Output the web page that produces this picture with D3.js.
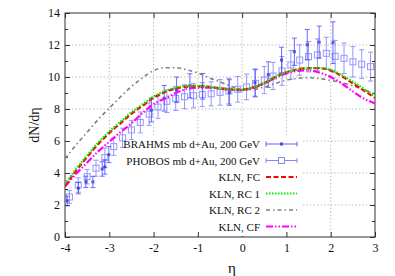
<!DOCTYPE html>
<html>
<head>
<meta charset="utf-8">
<script src="https://cdn.jsdelivr.net/npm/d3@7"></script>
<style>
  body { margin: 0; background: #fff; }
  svg { display: block; }
  svg text { font-family: "Liberation Serif", "DejaVu Serif", serif; }
</style>
</head>
<body>
<svg id="chart" width="395" height="276"></svg>
<script>
// model curves, sampled every 0.25 in eta
const etaGrid = [-4, -3.75, -3.5, -3.25, -3, -2.75, -2.5, -2.25, -2, -1.75, -1.5, -1.25, -1, -0.75, -0.5, -0.25,
  0, 0.25, 0.5, 0.75, 1, 1.25, 1.5, 1.75, 2, 2.25, 2.5, 2.75, 3];
const klnFC = [3.2, 4.15, 5.0, 5.8, 6.5, 7.1, 7.7, 8.2, 8.7, 9.05, 9.28, 9.4, 9.42, 9.38, 9.3, 9.22,
  9.2, 9.35, 9.62, 10.0, 10.3, 10.47, 10.55, 10.55, 10.4, 10.05, 9.6, 9.15, 8.7];
const klnRC1 = [3.3, 4.25, 5.1, 5.9, 6.6, 7.2, 7.8, 8.3, 8.78, 9.12, 9.33, 9.45, 9.45, 9.4, 9.3, 9.22,
  9.2, 9.35, 9.62, 10.0, 10.3, 10.47, 10.55, 10.56, 10.45, 10.12, 9.7, 9.25, 8.8];
const klnRC2 = [4.9, 5.75, 6.55, 7.35, 8.05, 8.75, 9.4, 9.95, 10.4, 10.58, 10.58, 10.45, 10.25, 9.95, 9.7, 9.42,
  9.25, 9.22, 9.38, 9.6, 9.8, 9.92, 9.95, 9.9, 9.78, 9.65, 9.45, 9.2, 8.95];
const klnCF = [3.15, 3.95, 4.65, 5.35, 5.95, 6.55, 7.1, 7.75, 8.3, 8.65, 9.0, 9.25, 9.33, 9.33, 9.27, 9.2,
  9.18, 9.32, 9.58, 9.95, 10.22, 10.38, 10.42, 10.27, 10.0, 9.6, 9.1, 8.65, 8.35];

// BRAHMS mb d+Au
const brahmsEta = [-3.95, -3.7, -3.53, -3.37, -3.16, -3.1, -3.01, -2.05, -1.76, -1.48, -1.18, -0.89, -0.29,
  0.29, 0.59, 0.89, 1.18, 1.47, 1.74, 2.05];
const brahmsVal = [2.25, 3.05, 3.45, 3.44, 4.25, 4.38, 5.15, 7.94, 8.67, 9.2, 9.45, 9.42, 9.03,
  9.65, 10.15, 11.06, 11.58, 12.02, 12.18, 12.15];
const brahmsErr = [0.3, 0.35, 0.35, 0.35, 0.45, 0.45, 0.5, 0.75, 0.8, 0.8, 0.75, 0.8, 0.8,
  0.85, 0.8, 0.8, 0.85, 0.95, 1.0, 1.3];

// PHOBOS mb d+Au
const phobosEta = [-3.9, -3.7, -3.5, -3.3, -3.1, -2.9, -2.7, -2.5, -2.3, -2.1, -1.9, -1.7, -1.5, -1.3, -1.1,
  -0.9, -0.7, -0.5, -0.3, -0.1, 0.1, 0.3, 0.5, 0.7, 0.9, 1.1, 1.3, 1.5, 1.7, 1.9, 2.1, 2.3, 2.5, 2.7, 2.9];
const phobosVal = [2.5, 3.25, 3.77, 4.3, 4.96, 5.65, 6.2, 6.69, 7.16, 7.68, 8.12, 8.48, 8.66, 8.77, 8.83,
  8.9, 8.95, 9.04, 9.12, 9.23, 9.38, 9.6, 9.81, 10.06, 10.38, 10.75, 11.06, 11.27, 11.38, 11.48, 11.29, 11.17, 10.95, 10.8, 10.65];
const phobosErr = [0.4, 0.45, 0.45, 0.5, 0.6, 0.55, 0.6, 0.6, 0.65, 0.7, 0.7, 0.7, 0.75, 0.75, 0.75,
  0.75, 0.75, 0.8, 0.8, 0.8, 0.8, 0.85, 0.85, 0.85, 0.9, 0.9, 0.95, 0.95, 1.0, 1.0, 1.0, 0.95, 0.95, 0.9, 0.9];

const xTicks = [-4, -3, -2, -1, 0, 1, 2, 3];
const yTicks = [0, 2, 4, 6, 8, 10, 12, 14];
const yMinor = [1, 3, 5, 7, 9, 11, 13];

const svg = d3.select("#chart");
const plot = { left: 65, right: 375, top: 13, bottom: 237 };
const serif = "Liberation Serif, DejaVu Serif, serif";

const x = d3.scaleLinear().domain([-4, 3]).range([plot.left, plot.right]);
const y = d3.scaleLinear().domain([0, 14]).range([plot.bottom, plot.top]);

// grid
const grid = svg.append("g").attr("stroke", "#b0b0b0").attr("stroke-width", 0.8).attr("stroke-dasharray", "1.5,2");
xTicks.slice(1, -1).forEach(t => grid.append("line").attr("x1", x(t)).attr("x2", x(t)).attr("y1", y(0)).attr("y2", y(14)));
yTicks.slice(1, -1).forEach(t => grid.append("line").attr("x1", x(-4)).attr("x2", x(3)).attr("y1", y(t)).attr("y2", y(t)));

// opaque key box hides the grid underneath
svg.append("rect").attr("x", plot.left + 1).attr("y", 136).attr("width", 302 - plot.left - 1).attr("height", plot.bottom - 136 - 1)
  .attr("fill", "#fff");

// axes (ticks pointing inward)
const tickStyle = g => {
  g.attr("font-family", serif);
  g.select(".domain").remove();
  g.selectAll("line").attr("stroke", "#333");
  g.selectAll("text").attr("font-size", 12).attr("fill", "#111");
};
svg.append("g").attr("transform", `translate(${plot.left},0)`)
  .call(d3.axisLeft(y).tickValues(yTicks).tickSize(-5).tickPadding(5).tickFormat(d3.format("d"))).call(tickStyle);
svg.append("g").attr("transform", `translate(${plot.left},0)`)
  .call(d3.axisLeft(y).tickValues(yMinor).tickSize(-3).tickFormat("")).call(tickStyle);
svg.append("g").attr("transform", `translate(${plot.right},0)`)
  .call(d3.axisRight(y).tickValues(yTicks).tickSize(-5).tickFormat("")).call(tickStyle);
svg.append("g").attr("transform", `translate(${plot.right},0)`)
  .call(d3.axisRight(y).tickValues(yMinor).tickSize(-3).tickFormat("")).call(tickStyle);
svg.append("g").attr("transform", `translate(0,${plot.bottom})`)
  .call(d3.axisBottom(x).tickValues(xTicks).tickSize(-5).tickPadding(6).tickFormat(d3.format("d"))).call(tickStyle);
svg.append("g").attr("transform", `translate(0,${plot.top})`)
  .call(d3.axisTop(x).tickValues(xTicks).tickSize(-5).tickFormat("")).call(tickStyle);

// minus signs as plain hyphen like gnuplot
svg.selectAll("text").each(function () { this.textContent = this.textContent.replace("\u2212", "-"); });

// key box also covers the tick under the last key entry
svg.append("rect").attr("x", 215).attr("y", 226).attr("width", 50).attr("height", 10).attr("fill", "#fff");

// border
svg.append("rect").attr("x", plot.left).attr("y", plot.top).attr("width", plot.right - plot.left).attr("height", plot.bottom - plot.top)
  .attr("fill", "none").attr("stroke", "#333").attr("stroke-width", 1);

// axis labels
svg.append("text").attr("transform", `translate(39,125) rotate(-90)`).attr("text-anchor", "middle")
  .attr("font-size", 14).attr("fill", "#111").text("dN/dη");
svg.append("text").attr("x", 232).attr("y", 273).attr("text-anchor", "middle")
  .attr("font-size", 15).attr("fill", "#111").text("η");

// data
svg.append("clipPath").attr("id", "clip").append("rect")
  .attr("x", plot.left).attr("y", plot.top).attr("width", plot.right - plot.left).attr("height", plot.bottom - plot.top);
const data = svg.append("g").attr("clip-path", "url(#clip)");

const errorBars = (g, etas, vals, errs, color, opacity) => {
  const cap = 2.5;
  etas.forEach((e, i) => {
    const cx = x(e), y1 = y(vals[i] - errs[i]), y2 = y(vals[i] + errs[i]);
    g.append("line").attr("x1", cx).attr("x2", cx).attr("y1", y1).attr("y2", y2);
    g.append("line").attr("x1", cx - cap).attr("x2", cx + cap).attr("y1", y1).attr("y2", y1);
    g.append("line").attr("x1", cx - cap).attr("x2", cx + cap).attr("y1", y2).attr("y2", y2);
  });
  g.attr("stroke", color).attr("stroke-width", 1).attr("opacity", opacity);
};

const phobosG = data.append("g");
errorBars(phobosG, phobosEta, phobosVal, phobosErr, "#6a6aff", 0.7);
phobosEta.forEach((e, i) => {
  phobosG.append("rect").attr("x", x(e) - 3).attr("y", y(phobosVal[i]) - 3).attr("width", 6).attr("height", 6).attr("fill", "none");
});

const brahmsG = data.append("g");
errorBars(brahmsG, brahmsEta, brahmsVal, brahmsErr, "#3a3aff", 0.75);
brahmsEta.forEach((e, i) => {
  brahmsG.append("rect").attr("x", x(e) - 1.5).attr("y", y(brahmsVal[i]) - 1.5).attr("width", 3).attr("height", 3)
    .attr("fill", "#2020d0").attr("stroke", "none");
});

const line = d3.line().x((d, i) => x(etaGrid[i])).y(d => y(d)).curve(d3.curveMonotoneX);
const curves = [
  { name: "KLN, RC 2", vals: klnRC2, color: "#808080", width: 1.6, dash: "4,3,1.5,3" },
  { name: "KLN, CF", vals: klnCF, color: "#ff00ff", width: 2.2, dash: "7,2,1.5,2,1.5,2" },
  { name: "KLN, FC", vals: klnFC, color: "#ff0000", width: 2.2, dash: "5,2.5" },
  { name: "KLN, RC 1", vals: klnRC1, color: "#00ee00", width: 2.2, dash: "1.5,1.5" }
];
curves.forEach(c => {
  data.append("path").attr("d", line(c.vals)).attr("fill", "none").attr("stroke", c.color)
    .attr("stroke-width", c.width).attr("stroke-dasharray", c.dash);
});

// legend
const legend = svg.append("g").attr("font-size", 11).attr("fill", "#111").attr("font-family", serif);
const rowY = [144, 160.5, 177, 193.5, 210, 226.5];
const labelX = 260, s1 = 266, s2 = 297;
const labels = ["BRAHMS mb d+Au, 200 GeV", "PHOBOS mb d+Au, 200 GeV", "KLN, FC", "KLN, RC 1", "KLN, RC 2", "KLN, CF"];
labels.forEach((t, i) => {
  legend.append("text").attr("x", labelX).attr("y", rowY[i] + 4).attr("text-anchor", "end").text(t);
});
[["#3a3aff", true], ["#6a6aff", false]].forEach(([col, filled], i) => {
  const g = legend.append("g").attr("stroke", col).attr("stroke-width", 1).attr("opacity", 0.8);
  const yy = rowY[i];
  g.append("line").attr("x1", s1).attr("x2", s2).attr("y1", yy).attr("y2", yy);
  g.append("line").attr("x1", s1).attr("x2", s1).attr("y1", yy - 2.5).attr("y2", yy + 2.5);
  g.append("line").attr("x1", s2).attr("x2", s2).attr("y1", yy - 2.5).attr("y2", yy + 2.5);
  if (filled) g.append("rect").attr("x", (s1 + s2) / 2 - 1.5).attr("y", yy - 1.5).attr("width", 3).attr("height", 3).attr("fill", "#2020d0").attr("stroke", "none");
  else g.append("rect").attr("x", (s1 + s2) / 2 - 3).attr("y", yy - 3).attr("width", 6).attr("height", 6).attr("fill", "#fff");
});
const order = ["KLN, FC", "KLN, RC 1", "KLN, RC 2", "KLN, CF"];
order.forEach((n, i) => {
  const c = curves.find(d => d.name === n);
  legend.append("line").attr("x1", s1).attr("x2", s2).attr("y1", rowY[i + 2]).attr("y2", rowY[i + 2])
    .attr("stroke", c.color).attr("stroke-width", c.width).attr("stroke-dasharray", c.dash);
});
</script>
</body>
</html>
